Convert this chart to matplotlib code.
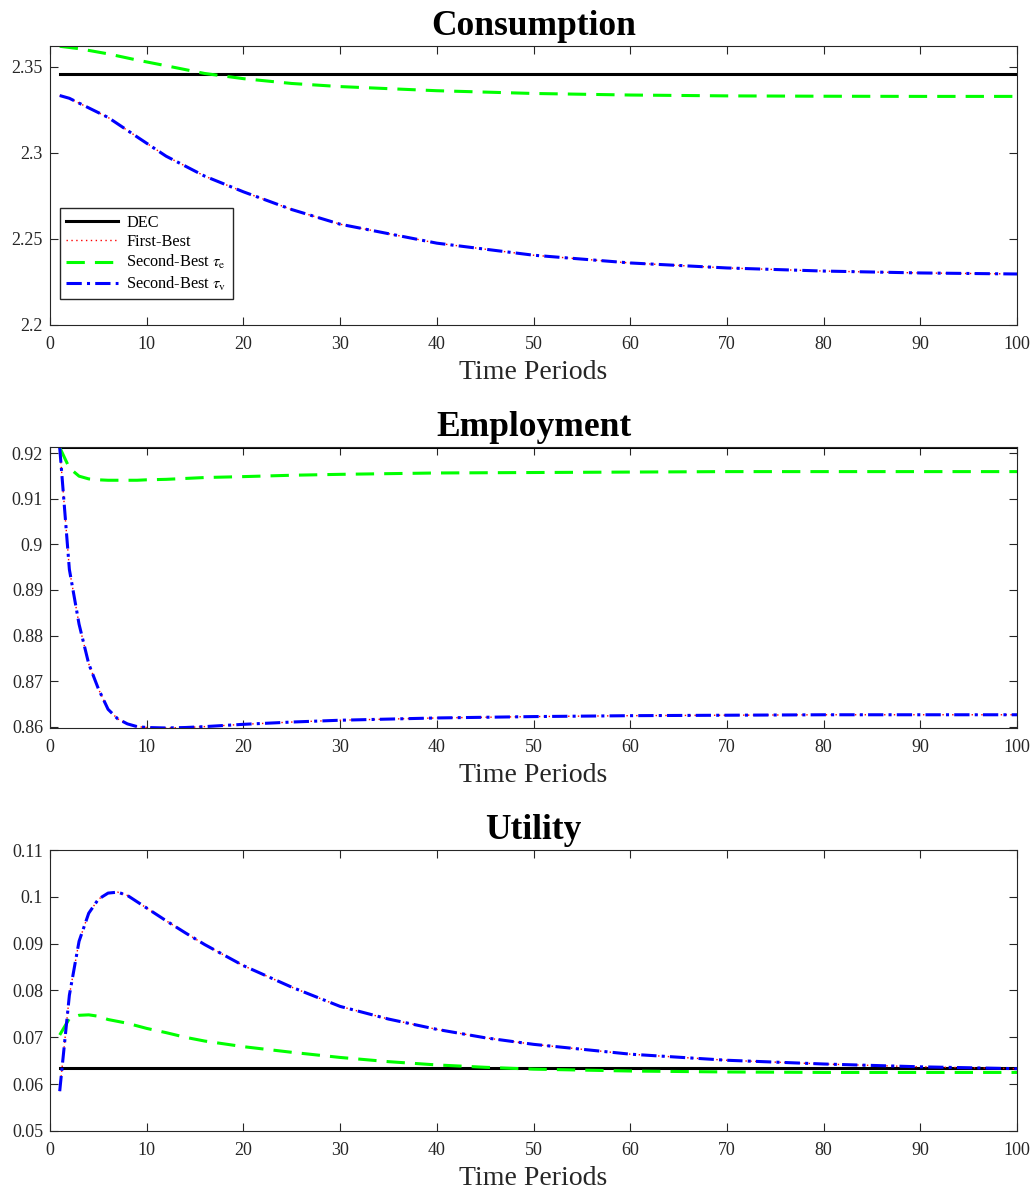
import matplotlib.pyplot as plt
from matplotlib.ticker import FuncFormatter

plt.rcParams['font.family'] = ['Liberation Serif', 'DejaVu Serif']
plt.rcParams['mathtext.fontset'] = 'stix'

# consumption paths
t_c = [1, 2, 3, 6, 9, 12, 16, 20, 25, 30, 40, 50, 60, 70, 80, 90, 100]
dec_c = 2.3456
tau_e_c = [2.3618, 2.3611, 2.3604, 2.3574, 2.3538, 2.3505, 2.3460, 2.3430, 2.3402,
           2.3384, 2.3360, 2.3344, 2.3335, 2.3330, 2.3328, 2.3327, 2.3327]
tau_v_c = [2.3332, 2.3316, 2.3288, 2.3205, 2.3092, 2.2980, 2.2864, 2.2773, 2.2670,
           2.2585, 2.2475, 2.2405, 2.2360, 2.2331, 2.2313, 2.2302, 2.2296]
fb_c = list(tau_v_c)

# employment paths
t_e = [1, 2, 3, 4, 5, 6, 7, 8, 9, 10, 12, 14, 16, 20, 25, 30, 40, 50, 60, 70, 80, 90, 100]
dec_e = 0.9213
tau_e_e = [0.9213, 0.9168, 0.9150, 0.9144, 0.9142, 0.9141, 0.9141, 0.9141, 0.9141, 0.9142,
           0.9143, 0.9145, 0.9147, 0.9149, 0.9152, 0.9154, 0.9157, 0.9158, 0.9159, 0.9160,
           0.9160, 0.9160, 0.9160]
tau_v_e = [0.9213, 0.8945, 0.8825, 0.8738, 0.8683, 0.8638, 0.8617, 0.8606, 0.8600, 0.8598,
           0.8597, 0.8598, 0.8600, 0.8605, 0.8610, 0.8614, 0.8619, 0.8622, 0.8624, 0.8625,
           0.8626, 0.8626, 0.8626]
fb_e = list(tau_v_e)

# utility paths
t_u = [1, 2, 3, 4, 5, 6, 7, 8, 10, 12, 14, 16, 20, 25, 30, 35, 40, 45, 50, 60, 70, 80, 90, 100]
dec_u = 0.0634
tau_e_u = [0.0705, 0.0740, 0.0747, 0.0748, 0.0745, 0.0738, 0.0734, 0.0730, 0.0719, 0.0710,
           0.0700, 0.0692, 0.0680, 0.0668, 0.0657, 0.0648, 0.0641, 0.0636, 0.0632, 0.0628,
           0.0626, 0.0625, 0.0625, 0.0625]
tau_v_u = [0.0585, 0.0790, 0.0905, 0.0965, 0.0995, 0.1008, 0.1010, 0.1003, 0.0976, 0.0949,
           0.0923, 0.0898, 0.0853, 0.0807, 0.0766, 0.0739, 0.0717, 0.0699, 0.0685, 0.0664,
           0.0651, 0.0643, 0.0637, 0.0633]
fb_u = list(tau_v_u)

panels = [
    ('Consumption', t_c, dec_c, fb_c, tau_e_c, tau_v_c, (2.2, 2.362), [2.2, 2.25, 2.3, 2.35]),
    ('Employment', t_e, dec_e, fb_e, tau_e_e, tau_v_e, (0.8597, 0.9214),
     [0.86, 0.87, 0.88, 0.89, 0.9, 0.91, 0.92]),
    ('Utility', t_u, dec_u, fb_u, tau_e_u, tau_v_u, (0.05, 0.11),
     [0.05, 0.06, 0.07, 0.08, 0.09, 0.1, 0.11]),
]

fig = plt.figure(figsize=(10.36, 11.93), dpi=100)
rects = [[0.0483, 0.7276, 0.9334, 0.2339],
         [0.0483, 0.3898, 0.9334, 0.2355],
         [0.0483, 0.0520, 0.9334, 0.2355]]

for i, (name, t, dec, fb, te, tv, ylim, yt) in enumerate(panels):
    ax = fig.add_axes(rects[i])
    ax.plot([t[0], t[-1]], [dec, dec], color='black', lw=2.2, label='DEC')
    ax.plot(t, fb, color='red', lw=1.0, ls=(0, (1, 2.5)), label='First-Best')
    ax.plot(t, te, color='#00ff00', lw=2.2, ls=(0, (6, 3.3)),
            label='Second-Best $\\tau_{\\mathrm{e}}$')
    ax.plot(t, tv, color='#0000ff', lw=2.2, ls=(0, (5, 1.7, 1, 1.7)),
            label='Second-Best $\\tau_{\\mathrm{v}}$')
    ax.set_xlim(0, 100)
    ax.set_ylim(*ylim)
    ax.set_xticks(range(0, 101, 10))
    ax.set_yticks(yt)
    ax.yaxis.set_major_formatter(FuncFormatter(lambda v, p: '%g' % round(v, 4)))
    ax.tick_params(direction='in', top=True, right=True, length=6, width=0.8,
                   labelsize=13, colors='#262626')
    ax.tick_params(axis='x', pad=8)
    ax.tick_params(axis='y', pad=5)
    for s in ax.spines.values():
        s.set_color('#262626')
        s.set_linewidth(0.8)
    ax.set_title(name, fontsize=25.5, fontweight='bold', pad=8)
    ax.set_xlabel('Time Periods', fontsize=20, labelpad=5, color='#262626')
    if i == 0:
        ax.legend(loc='upper left', bbox_to_anchor=(0.0103, 0.419), borderaxespad=0,
                  fontsize=11.7, labelspacing=0.21, handlelength=3.2, handletextpad=0.47,
                  borderpad=0.4, fancybox=False, edgecolor='#262626', framealpha=1)

plt.savefig('out.png')
